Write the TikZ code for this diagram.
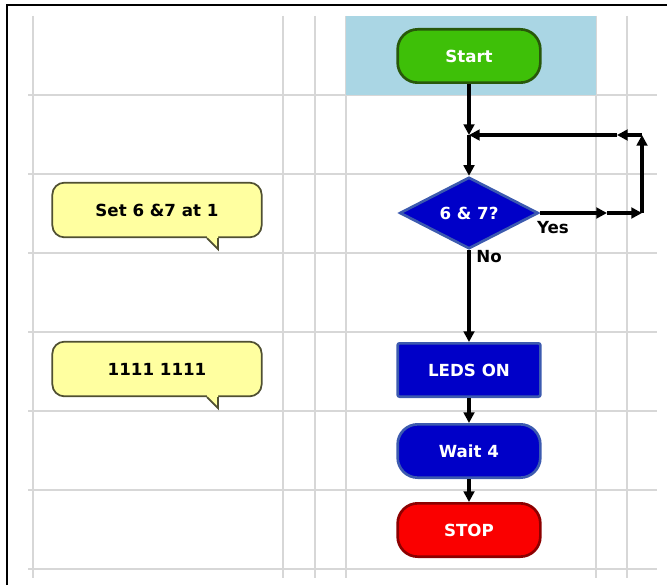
\documentclass[tikz,border=0pt]{standalone}
\usepackage{fontspec}
\setmainfont{DejaVu Sans}
\usetikzlibrary{arrows.meta,shapes.geometric,calc}
\definecolor{gridgray}{RGB}{215,215,215}
\definecolor{bandblue}{RGB}{170,214,228}
\definecolor{startgreen}{RGB}{62,192,8}
\definecolor{startedge}{RGB}{40,88,10}
\definecolor{ledblue}{RGB}{0,0,200}
\definecolor{bluedge}{RGB}{60,90,175}
\definecolor{stopred}{RGB}{250,0,0}
\definecolor{stopedge}{RGB}{140,0,0}
\definecolor{notefill}{RGB}{255,255,160}
\definecolor{noteedge}{RGB}{80,80,50}

\begin{document}
\begin{tikzpicture}[x=0.75pt,y=-0.75pt,
  gridline/.style={gridgray,line width=0.8pt},
  flow/.style={line width=2.6pt,-{Triangle[length=8pt,width=8pt]}},
  txt/.style={font=\bfseries\fontsize{12.5}{14}\selectfont},
  term/.style={txt,text=white,line width=2pt,rounded corners=15pt,
    minimum width=107pt,minimum height=40pt},
  block/.style={txt,text=white,fill=ledblue,draw=bluedge,line width=2pt,
    rounded corners=1.5pt,minimum width=107pt,minimum height=40pt},
  decision/.style={txt,text=white,diamond,fill=ledblue,draw=bluedge,
    line width=2pt,inner sep=0pt,minimum width=104pt,minimum height=45pt},
  note/.style={txt,fill=notefill,draw=noteedge,line width=1.3pt,
    rounded corners=9pt,minimum width=157pt,minimum height=41pt},
  lbl/.style={txt,text=black}]
\useasboundingbox (0,0) rectangle (667,585);
% grid of the sheet
\foreach \x in {33,283,315,346,596,627} \draw[gridline] (\x,16) -- (\x,578);
\foreach \y in {95,174,253,332,411,490,569} \draw[gridline] (28,\y) -- (657,\y);
% band behind Start
\fill[bandblue] (346,16) rectangle (596,95);
% frame
\draw[line width=1.8pt] (7,585) -- (7,5) -- (667,5);

% flowchart
\node[term,fill=startgreen,draw=startedge] (start) at (469,56) {Start};
\coordinate (join) at (469,135);
\node[decision] (test) at (469,213) {6 \& 7?};
\node[block] (leds) at (469,370) {LEDS ON};
\node[term,fill=ledblue,draw=bluedge] (wait) at (469,451) {Wait 4};
\node[term,fill=stopred,draw=stopedge] (stop) at (469,530) {STOP};
\node[lbl] (yes) at (553,228) {Yes};
\node[lbl] (no) at (489,257) {No};

\draw[flow] (start) -- (join);
\draw[flow] (join) -- (test);
\draw[flow] (test) -- (leds);
\draw[flow] (leds) -- (wait);
\draw[flow] (wait) -- (stop);

% loop back on Yes
\coordinate (yesmid) at (607,213);
\coordinate (yescorner) at (642,213);
\coordinate (backcorner) at (642,135);
\coordinate (backmid) at (617,135);
\draw[flow] (test.east) -- (yesmid);
\draw[flow] (yesmid) -- (yescorner);
\draw[flow] (yescorner) -- (backcorner);
\draw[flow] (backcorner) -- (backmid);
\draw[flow] (backmid) -- (join);

% comments
\node[note] (setnote) at (157,210) {Set 6 \&7 at 1};
\node[note] (bitsnote) at (157,369) {1111 1111};
\foreach \n in {setnote,bitsnote} {
  \fill[notefill] ($(\n.south)+(50,-2)$) -- ($(\n.south)+(50,0)$)
    -- ($(\n.south)+(61,11)$) -- ($(\n.south)+(61,-2)$) -- cycle;
  \draw[noteedge,line width=1.3pt] ($(\n.south)+(50,0)$) -- ++(11,11) -- ++(0,-11);
}
\end{tikzpicture}
\end{document}
